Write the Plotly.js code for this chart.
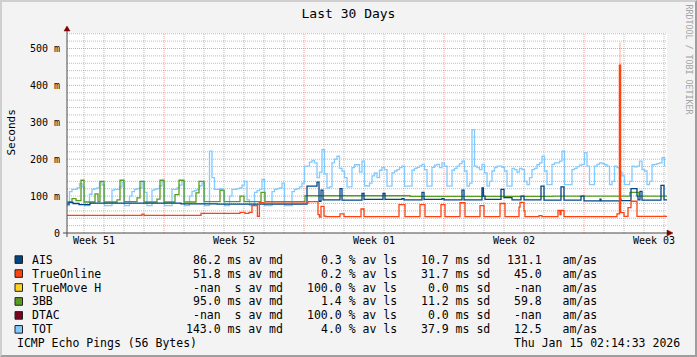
<!DOCTYPE html>
<html><head><meta charset="utf-8">
<script src="https://cdn.plot.ly/plotly-3.0.1.min.js"></script>
<style>
html,body{margin:0;padding:0;background:#f3f3f3;}
#wrap{position:relative;width:697px;height:357px;overflow:hidden;}
#chart{width:697px;height:357px;}
#frame{position:absolute;left:0;top:0;width:697px;height:357px;box-sizing:border-box;border-top:2px solid #cfcfcf;border-left:2px solid #cfcfcf;border-right:2px solid #9e9e9e;border-bottom:2px solid #9e9e9e;pointer-events:none;}
</style></head><body>
<div id="wrap"><div id="chart"></div><div id="frame"></div></div>
<script>
// ---------- data (time in days since start of the 30-day window, values in ms) ----------
const weekTickDay = [1.35, 8.35, 15.35, 22.35, 29.35];
const weekLabels = ['Week 51', 'Week 52', 'Week 01', 'Week 02', 'Week 03'];
const yTickMs = [0, 100, 200, 300, 400, 500];
const yTickLabels = ['0', '100 m', '200 m', '300 m', '400 m', '500 m'];

// TOT median, one sample every 3 hours (8 per day)
const totMs = [
  74,112,118,118,122,134,125,74,
  74,105,118,120,122,138,130,74,
  74,74,116,118,118,125,137,74,
  74,100,112,118,120,122,140,110,
  74,74,116,118,120,128,140,74,
  74,74,118,118,122,130,140,74,
  74,100,113,115,118,128,135,74,
  74,222,150,118,118,120,115,74,
  74,100,118,118,120,122,130,140,
  90,74,74,110,115,118,145,74,
  74,74,112,118,120,122,135,74,
  74,74,112,118,120,125,135,181,
  181,192,197,190,150,165,226,160,
  122,125,190,200,208,175,168,150,
  125,125,177,185,185,165,195,128,
  127,135,155,163,150,170,177,172,
  127,127,163,168,172,177,181,127,
  127,127,170,175,178,182,186,172,
  127,127,178,184,186,177,190,181,
  127,127,170,175,181,188,195,168,
  127,135,280,181,177,172,186,163,
  127,140,168,177,181,181,178,168,
  127,127,175,172,165,175,172,140,
  131,150,172,175,185,190,208,168,
  131,131,186,190,190,195,222,131,
  131,131,172,175,180,184,186,218,
  181,131,131,181,186,190,188,185,
  181,131,140,181,177,165,155,131,
  131,140,181,179,181,195,172,168,
  131,140,185,186,188,190,204,181
];

// AIS median, change points
const aisDay = [0, 0.1, 0.3, 0.6, 1.15, 5.7, 7.5,
  12.0, 12.5, 12.6, 12.7, 12.8,
  13.65, 13.75, 14.75, 14.85, 15.8, 15.9, 16.75, 16.85,
  17.75, 17.85, 18.75, 18.85, 19.75, 19.85,
  20.75, 20.82, 20.9, 21.7, 21.85, 22.25, 22.7, 22.85,
  23.7, 23.85, 24.7, 24.85, 25.7, 25.85,
  26.65, 26.7, 27.65, 27.7,
  28.2, 28.5, 28.55, 28.65, 28.75, 29.7, 29.85, 30];
const aisMs = [78, 83, 80, 77, 81, 79, 78,
  127, 138, 86, 116, 90,
  120, 89, 107, 91, 107, 91, 93, 90,
  110, 91, 93, 90, 116, 90,
  122, 100, 91, 118, 96, 90, 100, 90,
  127, 89, 125, 89, 100, 87,
  92, 87, 92, 88,
  120, 100, 90, 113, 89, 129, 90, 90];

// TrueOnline median, change points
const trueOnlineDay = [0, 3.75, 3.85, 6.7, 8.65, 8.9, 9.1,
  9.25, 9.52, 9.62, 9.85,
  12.05, 12.55, 12.62, 12.7, 12.85, 12.95,
  13.65, 13.85, 14.7, 14.85,
  16.6, 16.9, 17.65, 17.9, 18.7, 18.9, 19.65, 19.9,
  20.65, 20.85, 21.65, 21.9, 22.6, 22.65, 22.85, 22.9,
  23.6, 23.75, 24.55, 24.65, 24.7, 24.85,
  27.5, 27.62, 27.68, 27.85, 28.05, 28.2, 28.5,
  29.85, 29.9, 30];
const trueOnlineMs = [48, 51, 48, 53, 56, 53, 56,
  74, 45, 82, 81,
  85, 50, 43, 72, 46, 44.5,
  52, 44.5, 65, 44.5,
  77, 44.5, 77, 44.5, 77, 44.5, 82, 44.5,
  74, 44.5, 80, 44.5, 70, 83, 60, 44.5,
  47, 44.5, 61, 50, 61, 44.5,
  52, 455, 55, 45, 69, 86, 45,
  46, 45, 45];
// faint "smoke" above the TrueOnline spike
const trueOnlineSmokeDay = [27.65, 27.65];
const trueOnlineSmokeMs = [455, 517];

// 3BB median, change points
const bbDay = [0, 0.25, 0.45, 0.7, 0.85,
  1.4, 1.55, 1.65, 1.85,
  2.5, 2.65, 2.85,
  3.5, 3.65, 3.85,
  4.5, 4.65, 4.85,
  5.4, 5.6, 5.85,
  6.45, 6.6, 6.85,
  7.65, 7.85, 8.65, 8.85, 9.7, 9.9,
  11.9, 17.15, 24.3, 28.15, 28.6, 30];
const bbMs = [84, 93, 88, 143, 84,
  106, 85, 140, 84,
  90, 143, 85,
  95, 140, 84,
  92, 143, 84,
  104, 143, 84,
  109, 140, 85,
  116, 85, 100, 85, 110, 85,
  101, 99, 100, 110, 100, 100];

// legend table
const seriesNames = ['AIS', 'TrueOnline', 'TrueMove H', '3BB', 'DTAC', 'TOT'];
const medianMs = [86.2, 51.8, NaN, 95.0, NaN, 143.0];
const lossPct = [0.3, 0.2, 100.0, 1.4, 100.0, 4.0];
const sdMs = [10.7, 31.7, 0.0, 11.2, 0.0, 37.9];
const amAs = [131.1, 45.0, NaN, 59.8, NaN, 12.5];
const footerLeft = 'ICMP Echo Pings (56 Bytes)';
const footerRight = 'Thu Jan 15 02:14:33 2026';

// ---------- styling ----------
const seriesColors = ['#004586', '#ff420e', '#ffd320', '#579d1c', '#7e0021', '#83caff'];
const MONO = 'DejaVu Sans Mono, monospace';
const L = 67, T = 33, W = 600, H = 200, FIGH = 357;
const px2x = p => (p - L) / W;
const py2y = p => (T + H - p) / H;
const nb = s => s.replace(/ /g, '\u00a0');

const lw = 1.3;
const traces = [
  {x0: 0, dx: 0.125, y: totMs, name: 'TOT', mode: 'lines', line: {color: seriesColors[5], width: lw, shape: 'hv'}},
  {x: bbDay, y: bbMs, name: '3BB', mode: 'lines', line: {color: seriesColors[3], width: lw, shape: 'hv'}},
  {x: aisDay, y: aisMs, name: 'AIS', mode: 'lines', line: {color: seriesColors[0], width: lw, shape: 'hv'}},
  {x: trueOnlineSmokeDay, y: trueOnlineSmokeMs, name: 'TrueOnline smoke', mode: 'lines', line: {color: 'rgba(255,66,14,0.22)', width: 2}},
  {x: trueOnlineDay, y: trueOnlineMs, name: 'TrueOnline', mode: 'lines', line: {color: seriesColors[1], width: lw, shape: 'hv'}}
];

const shapes = [];
const gridGray = 'rgba(143,143,143,0.6)';
const gridRed = 'rgba(222,80,80,0.55)';
// vertical grid: one line per day, red one per week
for (let k = 0; k < 30; k++) {
  const d = 0.85 + k;
  const major = (k % 7) === 4;
  shapes.push({type: 'line', xref: 'x', yref: 'paper', x0: d, x1: d, y0: 0, y1: 1, layer: 'below',
    line: {color: major ? gridRed : gridGray, width: 1, dash: '1px,1px'}});
}
// horizontal grid
for (let v = 20; v <= 540; v += 20) {
  const major = v % 100 === 0;
  shapes.push({type: 'line', xref: 'paper', yref: 'y', x0: 0, x1: 1, y0: v, y1: v, layer: 'below',
    line: {color: major ? gridRed : gridGray, width: 1, dash: '1px,1px'}});
}
// axes + arrows
const axisCol = '#4a4a4a', arrowCol = '#800000';
shapes.push({type: 'line', xref: 'paper', yref: 'paper', x0: px2x(63), x1: px2x(668), y0: 0, y1: 0, line: {color: axisCol, width: 1}});
shapes.push({type: 'line', xref: 'paper', yref: 'paper', x0: 0, x1: 0, y0: py2y(237), y1: py2y(30), line: {color: axisCol, width: 1}});
shapes.push({type: 'path', xref: 'paper', yref: 'paper', fillcolor: arrowCol, line: {color: arrowCol, width: 0.5},
  path: `M ${px2x(667)},${py2y(230)} L ${px2x(673)},${py2y(233)} L ${px2x(667)},${py2y(236)} Z`});
shapes.push({type: 'path', xref: 'paper', yref: 'paper', fillcolor: arrowCol, line: {color: arrowCol, width: 0.5},
  path: `M ${px2x(64)},${py2y(31)} L ${px2x(67)},${py2y(26)} L ${px2x(70)},${py2y(31)} Z`});

const annotations = [];
const legFont = {family: MONO, size: 11.5, color: '#000'};
const rowY0 = 259.6, rowDY = 13.95;
const f1 = v => v.toFixed(1);
seriesNames.forEach((name, i) => {
  const cy = rowY0 + rowDY * i;
  shapes.push({type: 'rect', xref: 'paper', yref: 'paper', x0: px2x(15), x1: px2x(22.5), y0: py2y(cy - 3.8), y1: py2y(cy + 3.8),
    fillcolor: seriesColors[i], line: {color: '#222', width: 1}});
  const med = isNaN(medianMs[i]) ? '-nan  s av md' : f1(medianMs[i]) + ' ms av md';
  const loss = f1(lossPct[i]) + ' % av ls';
  const sd = f1(sdMs[i]) + ' ms sd';
  const am = (isNaN(amAs[i]) ? '-nan' : f1(amAs[i])) + '   am/as';
  const cols = [[name, 30.5, 'left'], [med, 283.5, 'right'], [loss, 397.5, 'right'], [sd, 490.5, 'right'], [am, 597.5, 'right']];
  cols.forEach(([txt, xp, anc]) => annotations.push({text: nb(txt), xref: 'paper', yref: 'paper', x: px2x(xp), y: py2y(cy),
    xanchor: anc, yanchor: 'middle', showarrow: false, font: legFont, borderpad: 0}));
});
annotations.push({text: nb(footerLeft), xref: 'paper', yref: 'paper', x: px2x(16), y: py2y(343.3), xanchor: 'left', yanchor: 'middle', showarrow: false, font: legFont, borderpad: 0});
annotations.push({text: nb(footerRight), xref: 'paper', yref: 'paper', x: px2x(680.5), y: py2y(343.3), xanchor: 'right', yanchor: 'middle', showarrow: false, font: legFont, borderpad: 0});
annotations.push({text: 'Seconds', xref: 'paper', yref: 'paper', x: px2x(10.5), y: py2y(133), xanchor: 'center', yanchor: 'middle', textangle: -90, showarrow: false, font: {family: MONO, size: 11, color: '#000'}, borderpad: 0});
annotations.push({text: nb('RRDTOOL / TOBI OETIKER'), xref: 'paper', yref: 'paper', x: px2x(688.5), y: py2y(59), xanchor: 'center', yanchor: 'middle', textangle: 90, showarrow: false, font: {family: MONO, size: 8.3, color: '#a3a3a3'}, borderpad: 0});

const layout = {
  width: 697, height: 357,
  margin: {l: L, r: 697 - L - W, t: T, b: FIGH - T - H, pad: 0},
  paper_bgcolor: '#f3f3f3', plot_bgcolor: '#ffffff',
  showlegend: false,
  title: {text: 'Last 30 Days', font: {family: MONO, size: 13, color: '#000'}, x: 0.5, xref: 'container', xanchor: 'center', y: 1 - 13.5 / FIGH, yref: 'container', yanchor: 'middle'},
  xaxis: {range: [0, 30], showgrid: false, zeroline: false, showline: false, tickmode: 'array', tickvals: weekTickDay, ticktext: weekLabels,
    ticks: '', tickfont: {family: MONO, size: 10, color: '#000'}, fixedrange: true},
  yaxis: {range: [0, 542], showgrid: false, zeroline: false, showline: false, tickmode: 'array', tickvals: yTickMs, ticktext: yTickLabels,
    ticks: '', ticklabelstandoff: 6, tickfont: {family: MONO, size: 10, color: '#000'}, fixedrange: true},
  shapes: shapes,
  annotations: annotations
};
Plotly.newPlot('chart', traces, layout, {staticPlot: true, displayModeBar: false});
</script></body></html>
